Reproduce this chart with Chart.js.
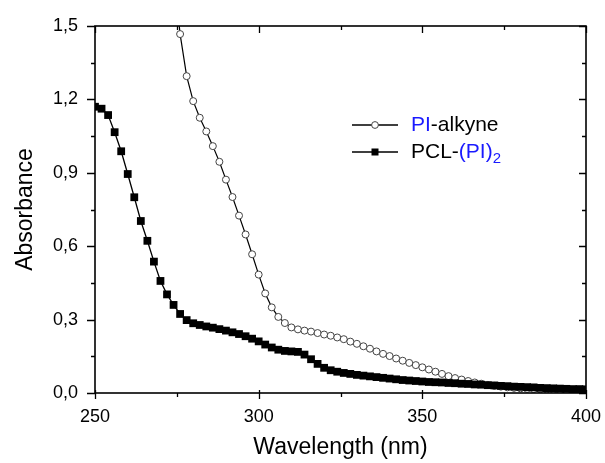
<!DOCTYPE html>
<html>
<head>
<meta charset="utf-8">
<script src="https://cdn.jsdelivr.net/npm/chart.js@4.4.0/dist/chart.umd.min.js"></script>
<style>
  html, body { margin: 0; padding: 0; background: #fff; }
  #c { display: block; }
</style>
</head>
<body>
<canvas id="c" width="605" height="463"></canvas>
<script>
  // ---------- Data ----------
  const PI_WAVE = [
    274, 276, 278, 280, 282, 284, 286, 288, 290, 292, 294, 296, 298, 300,
    302, 304, 306, 308, 310, 312, 314, 316, 318, 320, 322, 324, 326, 328,
    330, 332, 334, 336, 338, 340, 342, 344, 346, 348, 350, 352, 354, 356,
    358, 360, 362, 364, 366, 368, 370, 372, 374, 376, 378, 380, 382, 384,
    386, 388, 390, 392, 394, 396, 398, 400
  ];
  const PI_ABS = [
    1.72, 1.467, 1.295, 1.193, 1.125, 1.069, 1.009, 0.945, 0.872, 0.801, 0.725, 0.648, 0.567, 0.484,
    0.407, 0.350, 0.311, 0.286, 0.268, 0.260, 0.255, 0.251, 0.245, 0.239, 0.234, 0.227, 0.220, 0.210,
    0.201, 0.191, 0.181, 0.170, 0.160, 0.151, 0.141, 0.132, 0.123, 0.114, 0.105, 0.096, 0.087, 0.078,
    0.069, 0.061, 0.055, 0.049, 0.043, 0.038, 0.033, 0.029, 0.026, 0.023, 0.021, 0.019, 0.017, 0.016,
    0.015, 0.014, 0.013, 0.012, 0.011, 0.010, 0.010, 0.009
  ];

  const PCL_WAVE = [
    250, 252, 254, 256, 258, 260, 262, 264, 266, 268, 270, 272, 274, 276,
    278, 280, 282, 284, 286, 288, 290, 292, 294, 296, 298, 300, 302, 304,
    306, 308, 310, 312, 314, 316, 318, 320, 322, 324, 326, 328, 330, 332,
    334, 336, 338, 340, 342, 344, 346, 348, 350, 352, 354, 356, 358, 360,
    362, 364, 366, 368, 370, 372, 374, 376, 378, 380, 382, 384, 386, 388,
    390, 392, 394, 396, 398, 400
  ];
  const PCL_ABS = [
    1.170, 1.162, 1.136, 1.066, 0.988, 0.895, 0.800, 0.703, 0.622, 0.537, 0.458, 0.403, 0.360, 0.323,
    0.298, 0.285, 0.278, 0.272, 0.267, 0.261, 0.255, 0.248, 0.241, 0.232, 0.222, 0.211, 0.198, 0.186,
    0.177, 0.172, 0.170, 0.168, 0.157, 0.138, 0.119, 0.103, 0.093, 0.087, 0.082, 0.078, 0.074, 0.071,
    0.068, 0.065, 0.062, 0.059, 0.056, 0.053, 0.051, 0.049, 0.047, 0.045, 0.044, 0.043, 0.041, 0.040,
    0.038, 0.037, 0.035, 0.034, 0.032, 0.031, 0.029, 0.028, 0.026, 0.025, 0.024, 0.023, 0.021, 0.020,
    0.019, 0.018, 0.017, 0.016, 0.016, 0.015
  ];

  const X_MAJOR = [250, 300, 350, 400];
  const X_MINOR = [275, 325, 375];
  const Y_MAJOR = [0, 0.3, 0.6, 0.9, 1.2, 1.5];
  const Y_MINOR = [0.15, 0.45, 0.75, 1.05, 1.35];

  const FONT = "'Liberation Sans', Arial, sans-serif";
  const BLUE = "#1a1aff";

  const pts = (xs, ys) => xs.map((x, i) => ({ x, y: ys[i] }));

  // frame box + tick marks (Origin style)
  const frame = {
    id: "frame",
    afterDraw(chart) {
      const { ctx, chartArea: a } = chart;
      const x = chart.scales.x, y = chart.scales.y;
      ctx.save();
      ctx.strokeStyle = "#000";
      ctx.lineWidth = 1.6;
      ctx.strokeRect(a.left, a.top, a.right - a.left, a.bottom - a.top);
      ctx.lineWidth = 1.3;
      ctx.beginPath();
      X_MAJOR.forEach((v) => {
        const p = Math.round(x.getPixelForValue(v)) + 0.5;
        ctx.moveTo(p, a.bottom - 3); ctx.lineTo(p, a.bottom + 6);
        ctx.moveTo(p, a.top); ctx.lineTo(p, a.top + 7);
      });
      X_MINOR.forEach((v) => {
        const p = Math.round(x.getPixelForValue(v)) + 0.5;
        ctx.moveTo(p, a.bottom); ctx.lineTo(p, a.bottom + 4);
        ctx.moveTo(p, a.top); ctx.lineTo(p, a.top + 4);
      });
      Y_MAJOR.forEach((v) => {
        const p = Math.round(y.getPixelForValue(v)) + 0.5;
        ctx.moveTo(a.left - 8, p); ctx.lineTo(a.left, p);
        ctx.moveTo(a.right, p); ctx.lineTo(a.right - 7, p);
      });
      Y_MINOR.forEach((v) => {
        const p = Math.round(y.getPixelForValue(v)) + 0.5;
        ctx.moveTo(a.left - 4, p); ctx.lineTo(a.left, p);
        ctx.moveTo(a.right, p); ctx.lineTo(a.right - 4, p);
      });
      ctx.stroke();
      ctx.restore();
    },
  };

  // legend with mixed-colour labels
  const legendBox = {
    id: "legendBox",
    afterDraw(chart) {
      const ctx = chart.ctx;
      const x0 = 352, x1 = 398, xm = 375, tx = 411;
      const r1 = 125, r2 = 152;
      ctx.save();
      ctx.strokeStyle = "#000";
      ctx.lineWidth = 1.3;
      ctx.beginPath();
      ctx.moveTo(x0, r1); ctx.lineTo(x1, r1);
      ctx.moveTo(x0, r2); ctx.lineTo(x1, r2);
      ctx.stroke();
      ctx.fillStyle = "#fff";
      ctx.strokeStyle = "#444";
      ctx.lineWidth = 1;
      ctx.beginPath();
      ctx.arc(xm, r1, 3.4, 0, Math.PI * 2);
      ctx.fill(); ctx.stroke();
      ctx.fillStyle = "#000";
      ctx.fillRect(xm - 3.5, r2 - 3.5, 7, 7);

      ctx.font = "21px " + FONT;
      ctx.textBaseline = "middle";
      let cx = tx;
      const put = (txt, col, yy) => {
        ctx.fillStyle = col;
        ctx.fillText(txt, cx, yy);
        cx += ctx.measureText(txt).width;
      };
      put("PI", BLUE, r1);
      put("-alkyne", "#000", r1);
      cx = tx;
      put("PCL-", "#000", r2);
      put("(PI)", BLUE, r2);
      ctx.font = "15px " + FONT;
      put("2", BLUE, r2 + 7);
      ctx.restore();
    },
  };

  new Chart(document.getElementById("c"), {
    type: "line",
    data: {
      datasets: [
        {
          label: "PCL-(PI)2",
          data: pts(PCL_WAVE, PCL_ABS),
          borderColor: "#000",
          borderWidth: 1.3,
          pointStyle: "rect",
          pointRadius: 5.5,
          pointBackgroundColor: "#000",
          pointBorderColor: "#000",
          pointBorderWidth: 0,
          tension: 0,
        },
        {
          label: "PI-alkyne",
          data: pts(PI_WAVE, PI_ABS),
          borderColor: "#000",
          borderWidth: 1.2,
          pointStyle: "circle",
          pointRadius: 3.5,
          pointBackgroundColor: "#fff",
          pointBorderColor: "#444",
          pointBorderWidth: 1,
          tension: 0,
        },
      ],
    },
    options: {
      responsive: false,
      animation: false,
      devicePixelRatio: 1,
      layout: { padding: { top: 26, right: 19, left: 0, bottom: 0 } },
      plugins: { legend: { display: false }, tooltip: { enabled: false } },
      scales: {
        x: {
          type: "linear",
          min: 250,
          max: 400,
          border: { display: false },
          grid: { display: false, drawTicks: false },
          ticks: { stepSize: 50, padding: 13, color: "#000", font: { family: FONT, size: 18 } },
          title: {
            display: true,
            text: "Wavelength (nm)",
            color: "#000",
            font: { family: FONT, size: 23 },
            padding: { top: 0, bottom: 2 },
          },
          afterFit: (s) => {
            s.height = 70;
            s.paddingLeft = 0;
            s.paddingRight = 0;
          },
        },
        y: {
          min: 0,
          max: 1.5,
          border: { display: false },
          grid: { display: false, drawTicks: false },
          ticks: {
            stepSize: 0.3,
            padding: 17,
            color: "#000",
            font: { family: FONT, size: 18 },
            callback: (v) => Number(v).toFixed(1).replace(".", ","),
          },
          title: {
            display: true,
            text: "Absorbance",
            color: "#000",
            font: { family: FONT, size: 23 },
            padding: { top: 12, bottom: 0 },
          },
          afterFit: (s) => {
            s.width = 95;
            s.paddingTop = 0;
            s.paddingBottom = 0;
          },
        },
      },
    },
    plugins: [frame, legendBox],
  });
</script>
</body>
</html>
